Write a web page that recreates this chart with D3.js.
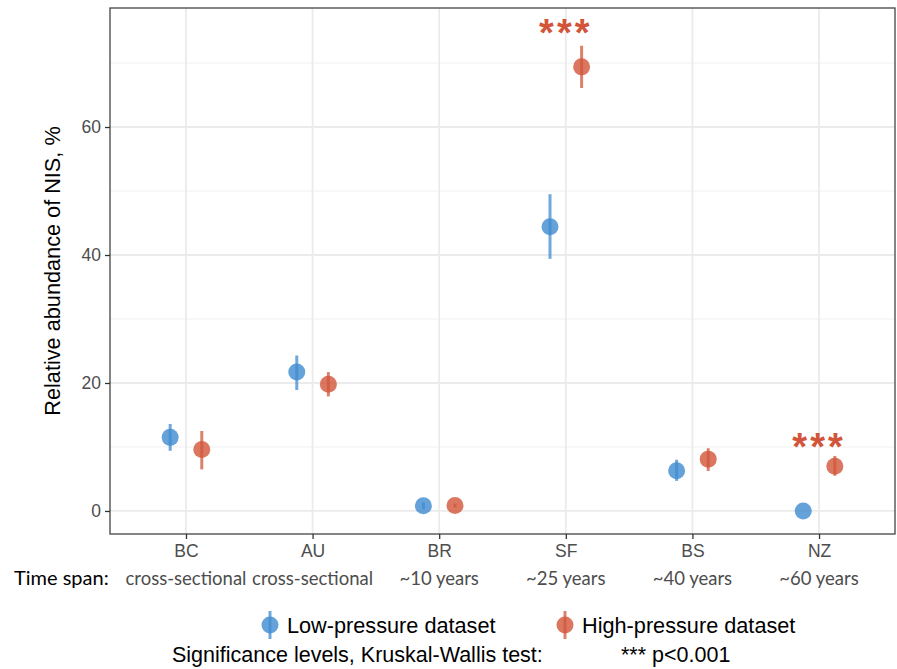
<!DOCTYPE html>
<html>
<head>
<meta charset="utf-8">
<script src="https://cdn.jsdelivr.net/npm/d3@7"></script>
<style>
  body { margin: 0; background: #fff; }
  svg { display: block; }
</style>
</head>
<body>
<svg id="chart" width="897" height="669"></svg>
<script>
// Data
const sites = ["BC", "AU", "BR", "SF", "BS", "NZ"];
const timeSpans = ["cross-sectional", "cross-sectional", "~10 years", "~25 years", "~40 years", "~60 years"];
const groups = ["Low-pressure dataset", "High-pressure dataset"];
const lowMean = [11.5, 21.7, 0.8, 44.4, 6.3, 0.0];
const lowLo   = [9.4, 18.9, 0.3, 39.4, 4.7, 0.0];
const lowHi   = [13.6, 24.3, 1.3, 49.5, 8.0, 0.0];
const highMean = [9.6, 19.8, 0.85, 69.4, 8.1, 7.0];
const highLo   = [6.5, 17.9, 0.55, 66.1, 6.25, 5.5];
const highHi   = [12.5, 21.7, 1.15, 72.7, 9.8, 8.6];
const signif = [{ site: "SF", y: 76, label: "***" }, { site: "NZ", y: 11.2, label: "***" }];
const yTicks = [0, 20, 40, 60];
const yMinor = [10, 30, 50, 70];

const colors = { "Low-pressure dataset": "#3f8bd0", "High-pressure dataset": "#d2553a" };
const mainFont = "Liberation Sans, Arial, sans-serif";

const margin = { top: 8, right: 2, bottom: 135, left: 110 };
const width = 897 - margin.left - margin.right;
const height = 669 - margin.top - margin.bottom;

const svg = d3.select("#chart");
const g = svg.append("g").attr("transform", `translate(${margin.left}, ${margin.top})`);

const x = d3.scalePoint().domain(sites).range([0, width]).padding(0.6);
const dodge = d3.scalePoint().domain(groups).range([-15.8, 15.8]);
const y = d3.scaleLinear().domain([-3.6, 78.6]).range([height, 0]);

const points = [];
sites.forEach((s, i) => {
    points.push({ site: s, group: groups[0], mean: lowMean[i], lo: lowLo[i], hi: lowHi[i] });
    points.push({ site: s, group: groups[1], mean: highMean[i], lo: highLo[i], hi: highHi[i] });
});

// Grid
g.selectAll(".minor").data(yMinor).enter().append("line")
    .attr("x1", 0).attr("x2", width)
    .attr("y1", d => y(d)).attr("y2", d => y(d))
    .attr("stroke", "#f0f0f0").attr("stroke-width", 1);
g.selectAll(".major").data(yTicks).enter().append("line")
    .attr("x1", 0).attr("x2", width)
    .attr("y1", d => y(d)).attr("y2", d => y(d))
    .attr("stroke", "#ebebeb").attr("stroke-width", 1.8);
g.selectAll(".vmajor").data(sites).enter().append("line")
    .attr("x1", d => x(d)).attr("x2", d => x(d))
    .attr("y1", 0).attr("y2", height)
    .attr("stroke", "#ebebeb").attr("stroke-width", 1.8);

// Points + error bars
const pt = g.selectAll(".pt").data(points).enter().append("g")
    .attr("transform", d => `translate(${x(d.site) + dodge(d.group)}, 0)`);
pt.append("circle")
    .attr("cy", d => y(d.mean))
    .attr("r", 8.5)
    .attr("fill", d => colors[d.group])
    .attr("fill-opacity", 0.8);
pt.filter(d => d.hi > d.lo).append("line")
    .attr("y1", d => y(d.lo)).attr("y2", d => y(d.hi))
    .attr("stroke", d => colors[d.group])
    .attr("stroke-opacity", 0.75)
    .attr("stroke-width", 3);

// Significance stars
g.selectAll(".star").data(signif).enter().append("text")
    .attr("x", d => x(d.site))
    .attr("y", d => y(d.y))
    .attr("dy", 21)
    .attr("text-anchor", "middle")
    .attr("font-family", mainFont)
    .attr("font-weight", "bold")
    .attr("font-size", 38)
    .attr("letter-spacing", 3)
    .attr("fill", colors["High-pressure dataset"])
    .text(d => d.label);

// Panel border
g.append("rect")
    .attr("width", width).attr("height", height)
    .attr("fill", "none").attr("stroke", "#444").attr("stroke-width", 1.3);

// Axes
const yAxis = g.append("g")
    .call(d3.axisLeft(y).tickValues(yTicks).tickSize(5).tickPadding(4));
const xAxis = g.append("g")
    .attr("transform", `translate(0, ${height})`)
    .call(d3.axisBottom(x).tickSize(5).tickPadding(6));
[xAxis, yAxis].forEach(a => {
    a.select(".domain").remove();
    a.selectAll(".tick line").attr("stroke", "#333").attr("stroke-width", 1.3);
    a.selectAll(".tick text")
        .attr("fill", "#4d4d4d")
        .attr("font-family", mainFont)
        .attr("font-size", 17.5);
});

// Time span row
g.selectAll(".span").data(sites).enter().append("text")
    .attr("x", d => x(d))
    .attr("y", height + 51)
    .attr("text-anchor", "middle")
    .attr("font-family", "Lato, sans-serif")
    .attr("font-size", 18.5)
    .attr("fill", "#4d4d4d")
    .text((d, i) => timeSpans[i]);
svg.append("text")
    .attr("x", 14).attr("y", margin.top + height + 51)
    .attr("font-family", "Lato, sans-serif")
    .attr("font-size", 20)
    .attr("fill", "#000")
    .text("Time span:");

// Y title
svg.append("text")
    .attr("transform", `translate(60, ${margin.top + height / 2}) rotate(-90)`)
    .attr("text-anchor", "middle")
    .attr("font-family", mainFont)
    .attr("font-size", 21.7)
    .attr("fill", "#000")
    .text("Relative abundance of NIS, %");

// Legend
const legendX = [270, 565];
const legend = svg.selectAll(".legend").data(groups).enter().append("g")
    .attr("transform", (d, i) => `translate(${legendX[i]}, 625)`);
legend.append("line")
    .attr("y1", -14).attr("y2", 14)
    .attr("stroke", d => colors[d]).attr("stroke-opacity", 0.75).attr("stroke-width", 3);
legend.append("circle")
    .attr("r", 8.5).attr("fill", d => colors[d]).attr("fill-opacity", 0.8);
legend.append("text")
    .attr("x", 17).attr("y", 7.5)
    .attr("font-family", mainFont)
    .attr("font-size", 21.7)
    .text(d => d);

svg.append("text")
    .attr("x", 172).attr("y", 662)
    .attr("font-family", mainFont)
    .attr("font-size", 21.5)
    .text("Significance levels, Kruskal-Wallis test:");
svg.append("text")
    .attr("x", 621).attr("y", 662)
    .attr("font-family", mainFont)
    .attr("font-size", 21.5)
    .text("*** p<0.001");
</script>
</body>
</html>
